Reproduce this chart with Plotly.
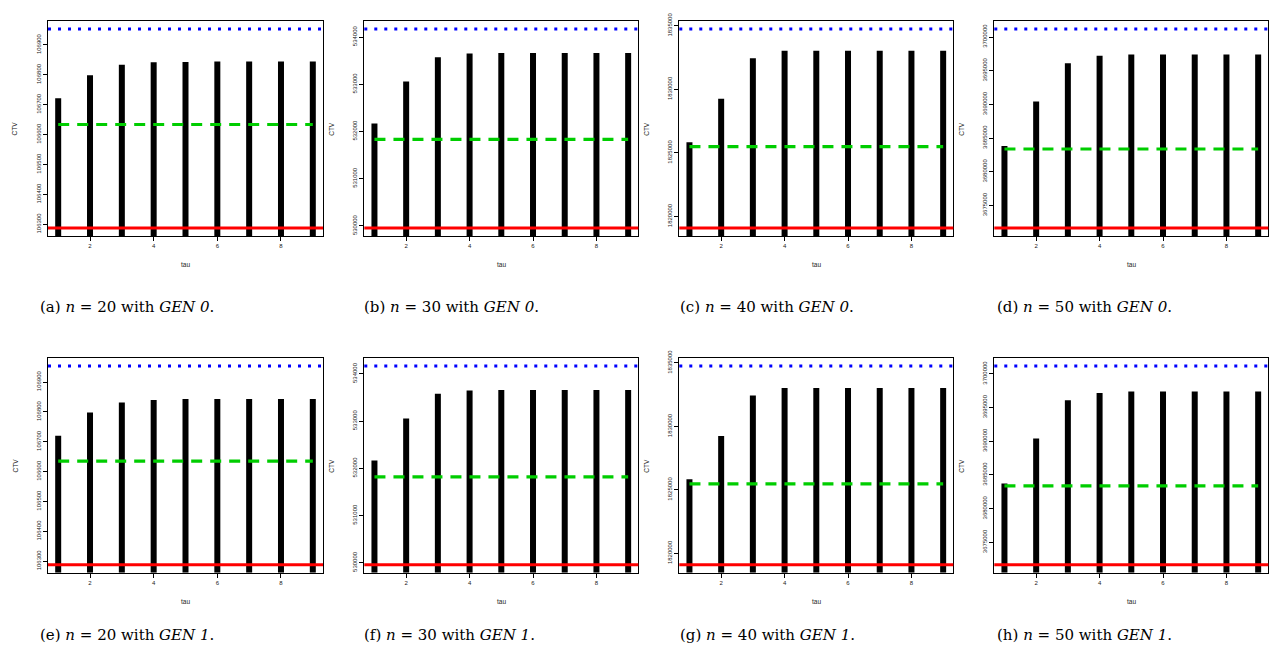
import plotly.graph_objects as go

# ---------------- data ----------------
tau = [1, 2, 3, 4, 5, 6, 7, 8, 9]

ctv_a = [106722, 106799, 106834, 106842, 106843, 106845, 106845, 106845, 106845]
ctv_b = [532168, 533057, 533574, 533650, 533664, 533664, 533664, 533664, 533664]
ctv_c = [1825833, 1829268, 1832438, 1833037, 1833037, 1833037, 1833037, 1833037, 1833037]
ctv_d = [3683824, 3690441, 3696118, 3697206, 3697397, 3697397, 3697397, 3697397, 3697397]
ctv_e = [106720, 106798, 106832, 106840, 106843, 106843, 106843, 106843, 106843]
ctv_f = [532168, 533056, 533580, 533650, 533657, 533657, 533657, 533657, 533657]
ctv_g = [1825830, 1829247, 1832440, 1833037, 1833037, 1833037, 1833037, 1833037, 1833037]
ctv_h = [3683725, 3690392, 3696078, 3697157, 3697402, 3697402, 3697402, 3697402, 3697402]

upper_blue = [106953, 534168, 1834743, 3701176, 106954, 534168, 1834766, 3701176]
middle_green = [106634, 531832, 1825498, 3683382, 106635, 531818, 1825467, 3683382]
lower_red = [106288, 529958, 1819089, 3671667, 106288, 529958, 1819092, 3671667]

yticks_n20 = [106300, 106400, 106500, 106600, 106700, 106800, 106900]
yticks_n30 = [530000, 531000, 532000, 533000, 534000]
yticks_n40 = [1820000, 1825000, 1830000, 1835000]
yticks_n50 = [3675000, 3680000, 3685000, 3690000, 3695000, 3700000]
xticks = [2, 4, 6, 8]

sizes = [20, 30, 40, 50]
gens = ["0", "1"]
letters = ["a", "b", "c", "d", "e", "f", "g", "h"]

series = [ctv_a, ctv_b, ctv_c, ctv_d, ctv_e, ctv_f, ctv_g, ctv_h]
yticks_by_col = [yticks_n20, yticks_n30, yticks_n40, yticks_n50]

# ---------------- layout geometry (pixels) ----------------
W, H = 1279, 659
col_px = [(48, 323), (364.3, 638.3), (679.3, 953.3), (994.3, 1268.3)]
row_px = [(13.3, 230.7), (354.3, 571.7)]
caption_x = [38, 362, 678, 995]
caption_y = [303, 635]

fig = go.Figure()
layout = dict(
    width=W, height=H, autosize=False,
    margin=dict(l=0, r=0, t=0, b=0),
    paper_bgcolor="white", plot_bgcolor="white",
    showlegend=False,
    font=dict(family="Liberation Sans, Arial, sans-serif", color="#222"),
)
shapes = []
annotations = []

for i in range(8):
    row, col = divmod(i, 4)
    n = i + 1
    xn = "x" if n == 1 else f"x{n}"
    yn = "y" if n == 1 else f"y{n}"
    xk = "xaxis" if n == 1 else f"xaxis{n}"
    yk = "yaxis" if n == 1 else f"yaxis{n}"

    vals = series[i]
    lo, hi = lower_red[i], upper_blue[i]
    span = hi - lo
    yr = [lo - 0.04 * span, hi + 0.04 * span]
    xspan = max(tau) - min(tau)
    xr = [min(tau) - 0.04 * xspan, max(tau) + 0.04 * xspan]

    # vertical "h" bars
    bx, by = [], []
    for t, v in zip(tau, vals):
        bx += [t, t, None]
        by += [yr[0], v, None]
    fig.add_trace(go.Scatter(x=bx, y=by, mode="lines",
                             line=dict(color="black", width=6),
                             xaxis=xn, yaxis=yn, hoverinfo="skip"))
    # green dashed
    fig.add_trace(go.Scatter(x=[min(tau), max(tau)], y=[middle_green[i]] * 2, mode="lines",
                             line=dict(color="#00CD00", width=3.2, dash="11px,8px"),
                             xaxis=xn, yaxis=yn, hoverinfo="skip"))

    # blue dotted and red solid full-width lines
    shapes.append(dict(type="line", xref=f"{xn} domain", yref=yn, x0=0, x1=1,
                       y0=upper_blue[i], y1=upper_blue[i], layer="above",
                       line=dict(color="#0000FF", width=3, dash="3px,7px")))
    shapes.append(dict(type="line", xref=f"{xn} domain", yref=yn, x0=0, x1=1,
                       y0=lower_red[i], y1=lower_red[i], layer="above",
                       line=dict(color="#FF0000", width=3)))

    x0p, x1p = col_px[col]
    y0p, y1p = row_px[row]
    layout[xk] = dict(domain=[x0p / W, x1p / W], anchor=yn, range=xr,
                      tickvals=xticks, ticktext=[str(v) for v in xticks],
                      ticks="outside", ticklen=4, tickwidth=1, tickcolor="black",
                      showline=True, linecolor="black", linewidth=1, mirror=True,
                      showgrid=False, zeroline=False,
                      tickfont=dict(size=6, color="#222"))
    yt = yticks_by_col[col]
    layout[yk] = dict(domain=[1 - y1p / H, 1 - y0p / H], anchor=xn, range=yr,
                      tickvals=yt, ticktext=[str(v) for v in yt], tickangle=-90,
                      ticks="outside", ticklen=4, tickwidth=1, tickcolor="black",
                      showline=True, linecolor="black", linewidth=1, mirror=True,
                      showgrid=False, zeroline=False,
                      tickfont=dict(size=6, color="#222"))

    annotations.append(dict(text="CTV", xref=f"{xn} domain", yref=f"{yn} domain",
                            x=0, y=0.5, xshift=-33, textangle=-90, showarrow=False,
                            font=dict(size=6.5, color="#222"),
                            xanchor="center", yanchor="middle"))
    annotations.append(dict(text="tau", xref=f"{xn} domain", yref=f"{yn} domain",
                            x=0.5, y=0, yshift=-29, showarrow=False,
                            font=dict(size=6.5, color="#222"),
                            xanchor="center", yanchor="middle"))
    cap = f"({letters[i]}) <i>n</i> = {sizes[col]} with <i>GEN {gens[row]}</i>."
    annotations.append(dict(text=cap, xref="paper", yref="paper",
                            x=caption_x[col] / W, y=1 - caption_y[row] / H,
                            xanchor="left", yanchor="middle", showarrow=False,
                            font=dict(size=15, family="DejaVu Serif, serif", color="black")))

layout["shapes"] = shapes
layout["annotations"] = annotations
fig.update_layout(**layout)
fig.write_html("out.html", config={"displayModeBar": False},
               post_script="document.body.style.margin='0';document.body.style.overflow='hidden';")
